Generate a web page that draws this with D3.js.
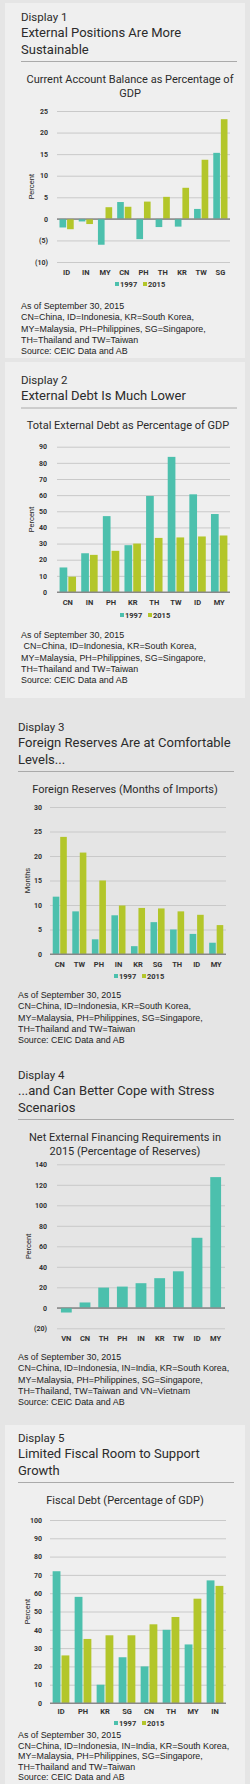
<!DOCTYPE html>
<html>
<head>
<meta charset="utf-8">
<script src="https://cdnjs.cloudflare.com/ajax/libs/d3/7.8.5/d3.min.js"></script>
<style>
  body { margin: 0; background: #e5e5e5; }
  svg { display: block; }
  .head { font-family: Roboto, sans-serif; fill: #2b2b2b; }
  .tick text, .cat text { font-family: Roboto, sans-serif; font-weight: bold; fill: #333; }
  .note { font-family: "Liberation Sans", Arial, sans-serif; fill: #222; white-space: pre; }
</style>
</head>
<body>
<svg id="page"></svg>
<script>
// ---- data ----
const d1Categories = ["ID", "IN", "MY", "CN", "PH", "TH", "KR", "TW", "SG"];
const d1Values1997 = [-2.0, -0.6, -6.0, 3.9, -4.7, -1.9, -1.8, 2.3, 15.3];
const d1Values2015 = [-2.4, -1.2, 2.7, 2.8, 4.0, 5.1, 7.2, 13.7, 23.1];
const d1Ticks = [-10, -5, 0, 5, 10, 15, 20, 25];

const d2Categories = ["CN", "IN", "PH", "KR", "TH", "TW", "ID", "MY"];
const d2Values1997 = [15.2, 24, 47, 29, 59.5, 83.7, 60.5, 48.3];
const d2Values2015 = [9.5, 23, 25.5, 30, 33.5, 33.8, 34.4, 35];
const d2Ticks = [0, 10, 20, 30, 40, 50, 60, 70, 80, 90];

const d3Categories = ["CN", "TW", "PH", "IN", "KR", "SG", "TH", "ID", "MY"];
const d3Values1997 = [11.7, 8.7, 3.0, 7.9, 1.6, 6.5, 5.0, 4.1, 2.3];
const d3Values2015 = [23.9, 20.7, 15.0, 9.9, 9.4, 9.3, 8.7, 8.0, 5.9];
const d3Ticks = [0, 5, 10, 15, 20, 25, 30];

const d4Categories = ["VN", "CN", "TH", "PH", "IN", "KR", "TW", "ID", "MY"];
const d4Values = [-4.6, 5.2, 19.7, 20.7, 24, 28.9, 35.6, 68.3, 127.5];
const d4Ticks = [-20, 0, 20, 40, 60, 80, 100, 120, 140];

const d5Categories = ["ID", "PH", "KR", "SG", "CN", "TH", "MY", "IN"];
const d5Values1997 = [72, 58, 10, 25, 20, 40, 32, 67];
const d5Values2015 = [26, 35, 37, 37, 43, 47, 57, 64];
const d5Ticks = [0, 10, 20, 30, 40, 50, 60, 70, 80, 90, 100];

const seriesNames = ["1997", "2015"];
const seriesColors = ["#4cc0ad", "#b3c62a"];

const notesA = ["As of September 30, 2015",
  "CN=China, ID=Indonesia, KR=South Korea,",
  "MY=Malaysia, PH=Philippines, SG=Singapore,",
  "TH=Thailand and TW=Taiwan",
  "Source: CEIC Data and AB"];
const notesB = ["As of September 30, 2015",
  " CN=China, ID=Indonesia, KR=South Korea,",
  "MY=Malaysia, PH=Philippines, SG=Singapore,",
  "TH=Thailand and TW=Taiwan",
  "Source: CEIC Data and AB"];
const notesC = ["As of September 30, 2015",
  "CN=China, ID=Indonesia, IN=India, KR=South Korea,",
  "MY=Malaysia, PH=Philippines, SG=Singapore,",
  "TH=Thailand, TW=Taiwan and VN=Vietnam",
  "Source: CEIC Data and AB"];
const notesD = ["As of September 30, 2015",
  "CN=China, ID=Indonesia, IN=India, KR=South Korea,",
  "MY=Malaysia, PH=Philippines, SG=Singapore,",
  "TH=Thailand and TW=Taiwan",
  "Source: CEIC Data and AB"];

const width = 250, height = 1784;
const svg = d3.select("#page").attr("width", width).attr("height", height);

svg.append("rect").attr("width", width).attr("height", height).attr("fill", "#e5e5e5");

// lighter panels behind displays 1, 2 and 5
[[3, 358], [362, 698], [1425, 1784]].forEach(p => {
  svg.append("rect").attr("x", 5).attr("y", p[0]).attr("width", 240).attr("height", p[1] - p[0])
    .attr("fill", "#efefef");
});

const fmt = v => v < 0 ? "(" + Math.abs(v) + ")" : String(v);

function heading(o) {
  svg.append("text").attr("class", "head").attr("x", o.x).attr("y", o.y)
    .attr("font-size", 11.5).text(o.label);
  o.title.forEach((t, i) => {
    svg.append("text").attr("class", "head").attr("x", o.x).attr("y", o.y + 16 + i * 16.5)
      .attr("font-size", 13).text(t);
  });
  const ry = o.y + 16 + (o.title.length - 1) * 16.5 + 8;
  svg.append("line").attr("x1", o.x).attr("x2", o.x + 216).attr("y1", ry).attr("y2", ry)
    .attr("stroke", "#aaa").attr("stroke-width", 1);
  o.chartTitle.forEach((t, i) => {
    svg.append("text").attr("class", "head").attr("x", o.titleX).attr("y", ry + 21 + i * 14)
      .attr("text-anchor", "middle").attr("font-size", 11).text(t);
  });
}

function chart(o) {
  const y = d3.scaleLinear().domain(o.yDomain).range(o.yRange);
  const x0 = d3.scaleBand().domain(o.categories).range(o.xRange)
    .paddingInner(o.pad).paddingOuter(o.pad / 2);

  // gridlines + tick labels
  const ax = svg.append("g").attr("transform", `translate(${o.xRange[0]},0)`)
    .call(d3.axisLeft(y).tickValues(o.ticks).tickFormat(fmt)
      .tickSize(-(o.xRange[1] - o.xRange[0])).tickPadding(o.tickPad));
  ax.select(".domain").remove();
  ax.selectAll(".tick line").attr("stroke", d => d === 0 ? "#888" : "#c9c9c9").attr("stroke-width", 1);
  ax.selectAll(".tick text").attr("font-size", 7);

  // y label
  svg.append("text").attr("class", "head")
    .attr("transform", `translate(${o.yLabelX},${(o.yRange[0] + o.yRange[1]) / 2}) rotate(-90)`)
    .attr("text-anchor", "middle").attr("font-size", 7.5).text(o.yLabel);

  const groups = svg.append("g").selectAll("g").data(o.categories).join("g")
    .attr("transform", d => `translate(${x0(d)},0)`);

  const x1 = d3.scaleBand().domain(d3.range(o.series.length)).range([0, x0.bandwidth()])
    .paddingInner(o.series.length > 1 ? 0.12 : 0);

  groups.selectAll("rect").data((d, i) => o.series.map((s, k) => ({ k, v: s[i] }))).join("rect")
    .attr("x", d => x1(d.k))
    .attr("width", x1.bandwidth())
    .attr("y", d => y(Math.max(0, d.v)))
    .attr("height", d => Math.abs(y(d.v) - y(0)))
    .attr("fill", d => seriesColors[d.k]);

  // zero line on top of bars
  svg.append("line").attr("x1", o.xRange[0]).attr("x2", o.xRange[1])
    .attr("y1", y(0)).attr("y2", y(0)).attr("stroke", "#888").attr("stroke-width", 1);

  // category labels
  const cat = svg.append("g").attr("class", "cat");
  cat.selectAll("text").data(o.categories).join("text")
    .attr("x", d => x0(d) + x0.bandwidth() / 2).attr("y", o.catY)
    .attr("text-anchor", "middle").attr("font-size", 7.5).text(d => d);

  // legend
  if (o.legendY) {
    const lg = svg.append("g").attr("class", "cat")
      .attr("transform", `translate(${o.legendX},${o.legendY})`);
    seriesNames.forEach((n, i) => {
      lg.append("rect").attr("x", i * 28).attr("y", -4).attr("width", 4).attr("height", 4)
        .attr("fill", seriesColors[i]);
      lg.append("text").attr("x", i * 28 + 5).attr("y", 0.5).attr("font-size", 7.5).text(n);
    });
  }

  // notes
  o.notes.forEach((t, i) => {
    svg.append("text").attr("class", "note").attr("x", o.noteX).attr("y", o.noteY + i * o.noteGap)
      .attr("font-size", 8.9).text(t);
  });
}

// Display 1
heading({ x: 21, y: 21, label: "Display 1", title: ["External Positions Are More", "Sustainable"],
  titleX: 130, chartTitle: ["Current Account Balance as Percentage of", "GDP"] });
chart({ categories: d1Categories, series: [d1Values1997, d1Values2015], ticks: d1Ticks,
  yDomain: [-10, 25], yRange: [262, 111], xRange: [57, 230], pad: 0.26, tickPad: 9,
  yLabel: "Percent", yLabelX: 34, catY: 275, legendX: 115, legendY: 286,
  notes: notesA, noteX: 21, noteY: 309, noteGap: 11.3 });

// Display 2
heading({ x: 21, y: 384, label: "Display 2", title: ["External Debt Is Much Lower"],
  titleX: 128, chartTitle: ["Total External Debt as Percentage of GDP"] });
chart({ categories: d2Categories, series: [d2Values1997, d2Values2015], ticks: d2Ticks,
  yDomain: [0, 90], yRange: [592, 446.7], xRange: [57, 230], pad: 0.24, tickPad: 10,
  yLabel: "Percent", yLabelX: 34, catY: 605, legendX: 120, legendY: 617,
  notes: notesB, noteX: 21, noteY: 638, noteGap: 11.3 });

// Display 3
heading({ x: 18, y: 731, label: "Display 3", title: ["Foreign Reserves Are at Comfortable", "Levels..."],
  titleX: 125, chartTitle: ["Foreign Reserves (Months of Imports)"] });
chart({ categories: d3Categories, series: [d3Values1997, d3Values2015], ticks: d3Ticks,
  yDomain: [0, 30], yRange: [954, 807], xRange: [50, 226], pad: 0.28, tickPad: 8,
  yLabel: "Months", yLabelX: 30, catY: 967, legendX: 114, legendY: 978,
  notes: notesA, noteX: 18, noteY: 998, noteGap: 11.3 });

// Display 4
heading({ x: 18, y: 1079, label: "Display 4", title: ["...and Can Better Cope with Stress", "Scenarios"],
  titleX: 125, chartTitle: ["Net External Financing Requirements in", "2015 (Percentage of Reserves)"] });
chart({ categories: d4Categories, series: [d4Values], ticks: d4Ticks,
  yDomain: [-20, 140], yRange: [1328.3, 1164.3], xRange: [57, 225], pad: 0.42, tickPad: 10,
  yLabel: "Percent", yLabelX: 31, catY: 1341, legendY: null,
  notes: notesC, noteX: 18, noteY: 1360, noteGap: 11.3 });

// Display 5
heading({ x: 18, y: 1442, label: "Display 5", title: ["Limited Fiscal Room to Support", "Growth"],
  titleX: 125, chartTitle: ["Fiscal Debt (Percentage of GDP)"] });
chart({ categories: d5Categories, series: [d5Values1997, d5Values2015], ticks: d5Ticks,
  yDomain: [0, 100], yRange: [1703, 1520], xRange: [50, 226], pad: 0.24, tickPad: 8,
  yLabel: "Percent", yLabelX: 30, catY: 1714, legendX: 114, legendY: 1725,
  notes: notesD, noteX: 18, noteY: 1738, noteGap: 10.6 });
</script>
</body>
</html>
